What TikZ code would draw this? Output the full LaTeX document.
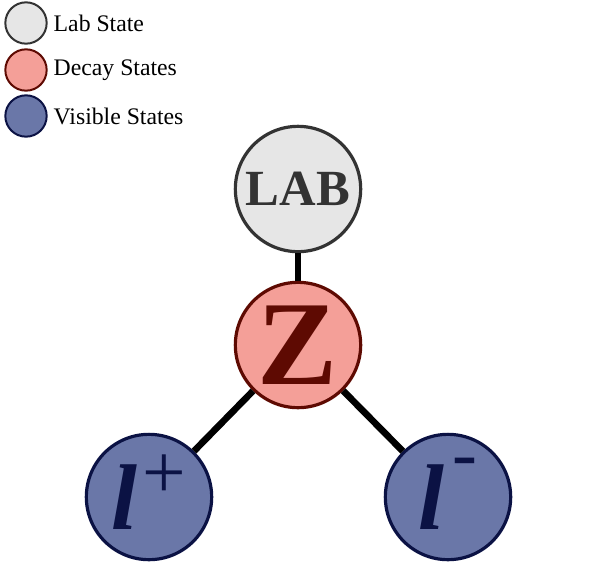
\documentclass[tikz,border=0pt]{standalone}
\usepackage{fontspec}
\setmainfont{Liberation Serif}
\usetikzlibrary{positioning}

\definecolor{labfill}{HTML}{E6E6E6}
\definecolor{labdraw}{HTML}{333333}
\definecolor{decayfill}{HTML}{F49F98}
\definecolor{decaydraw}{HTML}{5E0A02}
\definecolor{visfill}{HTML}{6A77A8}
\definecolor{visdraw}{HTML}{0B1244}

% lepton symbol: #1 charge, #2 charge size, #3 gap, #4 raise
\newcommand{\lepton}[4]{%
  {\fontsize{70}{70}\selectfont\bfseries\itshape l}%
  \hspace{#3}\smash{\raisebox{#4}{\fontsize{#2}{#2}\selectfont #1}}}

\begin{document}
\begin{tikzpicture}[
    x=0.75pt, y=-0.75pt,
    state/.style={
        circle,
        minimum size=94pt,
        inner sep=0pt,
        line width=2.4pt
    },
    key/.style={
        circle,
        minimum size=31pt,
        inner sep=0pt,
        line width=1.5pt
    },
    labstate/.style={fill=labfill, draw=labdraw, text=labdraw},
    decaystate/.style={fill=decayfill, draw=decaydraw, text=decaydraw},
    visstate/.style={fill=visfill, draw=visdraw, text=visdraw},
    keytext/.style={
        right=1pt,
        font=\fontsize{17.8}{19}\selectfont
    },
    link/.style={
        line width=5pt
    }
]
\useasboundingbox (0,0) rectangle (598,575);

% legend
\node[key, labstate] (keylab) at (26,23) {};
\node[keytext] at (keylab.east) {Lab State};
\node[key, decaystate] (keydecay) at (26,70) {};
\node[keytext] at (keydecay.east) {Decay States};
\node[key, visstate] (keyvis) at (26,116) {};
\node[keytext] at (keyvis.east) {Visible States};

% decay tree
\node[state, labstate] (lab) at (298,189)
{\fontsize{38}{38}\selectfont\bfseries LAB};
\node[state, decaystate] (z) at (298,345)
{\fontsize{90}{90}\selectfont\bfseries Z};
\node[state, visstate] (lplus) at (149,497) {\lepton{+}{58}{4pt}{23pt}};
\node[state, visstate] (lminus) at (448,497) {\lepton{-}{56}{6pt}{38pt}};

\draw[link] (lab) -- (z);
\draw[link] (z) -- (lplus);
\draw[link] (z) -- (lminus);

\end{tikzpicture}
\end{document}
